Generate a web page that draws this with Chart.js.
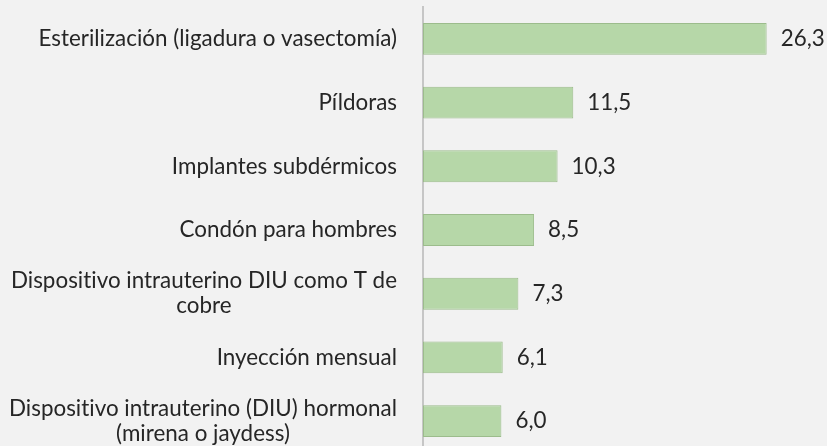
<!DOCTYPE html>
<html>
<head>
<meta charset="utf-8">
<script src="https://cdn.jsdelivr.net/npm/chart.js@4"></script>
<style>
  html, body { margin: 0; padding: 0; background: #f2f2f2; overflow: hidden; }
  #wrap { width: 827px; height: 446px; overflow: hidden; }
</style>
</head>
<body>
<div id="wrap">
  <canvas id="myChart" width="827" height="453"></canvas>
</div>
<script>
// métodos anticonceptivos, en porcentaje
const metodos = [
  'Esterilización (ligadura o vasectomía)',
  'Píldoras',
  'Implantes subdérmicos',
  'Condón para hombres',
  ['Dispositivo intrauterino DIU como T de', 'cobre'],
  'Inyección mensual',
  ['Dispositivo intrauterino (DIU) hormonal', '(mirena o jaydess)']
];
const porcentajes = [26.3, 11.5, 10.3, 8.5, 7.3, 6.1, 6.0];

const fuente = '22.4px Lato, "Open Sans", sans-serif';
const colorTexto = '#262626';

// sin ligaduras (Lato junta la "ti")
function prepararTexto(ctx) {
  ctx.font = fuente;
  ctx.fillStyle = colorTexto;
  ctx.letterSpacing = '0.01px';
}

// etiquetas de la izquierda: bloque alineado al eje, líneas centradas entre sí
const etiquetasCategorias = {
  id: 'etiquetasCategorias',
  afterDraw(chart) {
    const ctx = chart.ctx;
    const y = chart.scales.y;
    const derecha = chart.chartArea.left - 26;
    ctx.save();
    prepararTexto(ctx);
    ctx.textAlign = 'center';
    ctx.textBaseline = 'middle';
    metodos.forEach((m, i) => {
      const lineas = Array.isArray(m) ? m : [m];
      const ancho = Math.max(...lineas.map(l => ctx.measureText(l).width));
      const cx = derecha - ancho / 2;
      const cy = y.getPixelForValue(i);
      const alto = 25;
      lineas.forEach((l, j) => {
        ctx.fillText(l, cx, cy + (j - (lineas.length - 1) / 2) * alto);
      });
    });
    ctx.restore();
  }
};

// valor al final de cada barra, con coma decimal
const etiquetasValores = {
  id: 'etiquetasValores',
  afterDatasetsDraw(chart) {
    const ctx = chart.ctx;
    const barras = chart.getDatasetMeta(0).data;
    ctx.save();
    prepararTexto(ctx);
    ctx.textAlign = 'left';
    ctx.textBaseline = 'middle';
    barras.forEach((b, i) => {
      ctx.fillText(porcentajes[i].toFixed(1).replace('.', ','), b.x + 14, b.y);
    });
    ctx.restore();
  }
};

const ctx = document.getElementById('myChart');

new Chart(ctx, {
  type: 'bar',
  data: {
    labels: metodos,
    datasets: [{
      data: porcentajes,
      backgroundColor: '#b6d7a8',
      borderColor: '#9cbc8c',
      borderWidth: 1,
      borderSkipped: false,
      barPercentage: 0.5,
      categoryPercentage: 1
    }]
  },
  options: {
    indexAxis: 'y',
    responsive: false,
    animation: false,
    events: [],
    layout: { padding: { top: 7, right: 12, bottom: 0, left: 0 } },
    plugins: {
      legend: { display: false },
      tooltip: { enabled: false }
    },
    scales: {
      x: {
        display: false,
        min: 0,
        max: 30
      },
      y: {
        grid: { display: false },
        border: { display: true, color: '#c6c6c6', width: 2 },
        ticks: { display: false },
        afterFit(scale) { scale.width = 423; }
      }
    }
  },
  plugins: [etiquetasCategorias, etiquetasValores]
});
</script>
</body>
</html>
